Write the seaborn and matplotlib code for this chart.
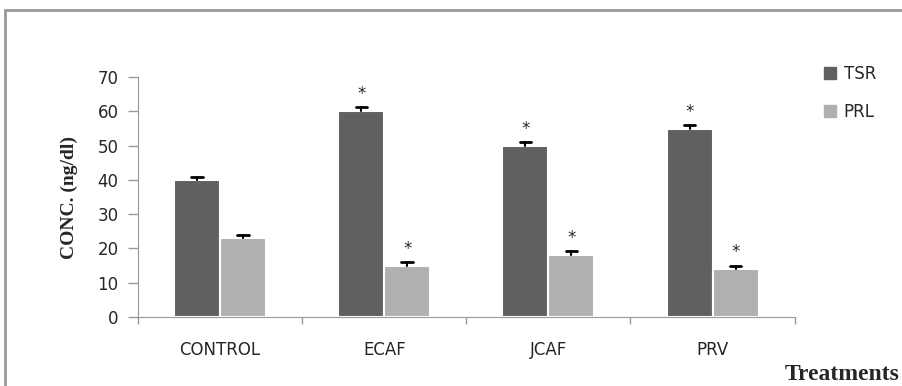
import seaborn as sns
import matplotlib.pyplot as plt
import pandas as pd
from matplotlib.patches import Rectangle
from matplotlib.lines import Line2D

# values
treatments = ["CONTROL", "ECAF", "JCAF", "PRV"]
tsr = [40, 60, 50, 55]
prl = [23, 15, 18, 14]
tsr_err = [1, 1.3, 1, 1]
prl_err = [0.8, 1, 1.2, 1]
tsr_sig = ["", "*", "*", "*"]
prl_sig = ["", "*", "*", "*"]

df = pd.DataFrame({
    "Treatment": treatments * 2,
    "Hormone": ["TSR"] * 4 + ["PRL"] * 4,
    "Conc": tsr + prl,
})

sns.set_style("white")
plt.rcParams["font.family"] = ["DejaVu Sans"]

fig = plt.figure(figsize=(9.02, 3.86), dpi=100)
ax = fig.add_axes([0.153, 0.179, 0.728, 0.621])

colors = {"TSR": "#606060", "PRL": "#b0b0b0"}
sns.barplot(data=df, x="Treatment", y="Conc", hue="Hormone", palette=colors,
            width=0.56, edgecolor="white", linewidth=1.5, ax=ax, legend=False)

# error bars (upper only) and significance stars
for cont, errs, sig in zip(ax.containers, [tsr_err, prl_err], [tsr_sig, prl_sig]):
    for bar, e, s in zip(cont, errs, sig):
        xc = bar.get_x() + bar.get_width() / 2
        h = bar.get_height()
        top = h + e
        ax.plot([xc, xc], [h, top], color="black", lw=1.5)
        ax.plot([xc - 0.035, xc + 0.035], [top, top], color="black", lw=2)
        if s:
            ax.text(xc, top + 1.2, s, ha="center", va="bottom", fontsize=12)

ax.set_ylim(0, 70)
ax.set_xlim(-0.5, 3.5)
ax.set_yticks(range(0, 71, 10))
ax.tick_params(axis="y", labelsize=12, length=7, width=1, color="#999999",
               left=True, pad=7)
ax.set_xticks([-0.5, 0.5, 1.5, 2.5, 3.5], minor=True)
ax.tick_params(axis="x", which="major", length=0, labelsize=12, pad=17)
ax.tick_params(axis="x", which="minor", length=5, width=1, color="#999999",
               bottom=True)
for side in ["top", "right"]:
    ax.spines[side].set_visible(False)
for side in ["left", "bottom"]:
    ax.spines[side].set_color("#999999")

ax.set_xlabel("")
ax.set_ylabel("CONC. (ng/dl)", fontfamily="Liberation Serif", fontweight="bold",
              fontsize=14, labelpad=14)

fig.text(0.997, 0.03, "Treatments", ha="right", va="center",
         fontfamily="Liberation Serif", fontweight="bold", fontsize=17)

handles = [Line2D([], [], marker="s", linestyle="none", markersize=9,
                  markerfacecolor=colors[k], markeredgecolor=colors[k])
           for k in ["TSR", "PRL"]]
fig.legend(handles, ["TSR", "PRL"], loc="upper left", bbox_to_anchor=(0.893, 0.87),
           frameon=False, fontsize=12, handletextpad=0.2, handlelength=1.2,
           labelspacing=1.2)

# outer frame
fig.patches.append(Rectangle((0.006, -0.05), 1.1, 1.024, transform=fig.transFigure,
                             fill=False, edgecolor="#999999", linewidth=2))

fig.savefig("out.png", dpi=100)
